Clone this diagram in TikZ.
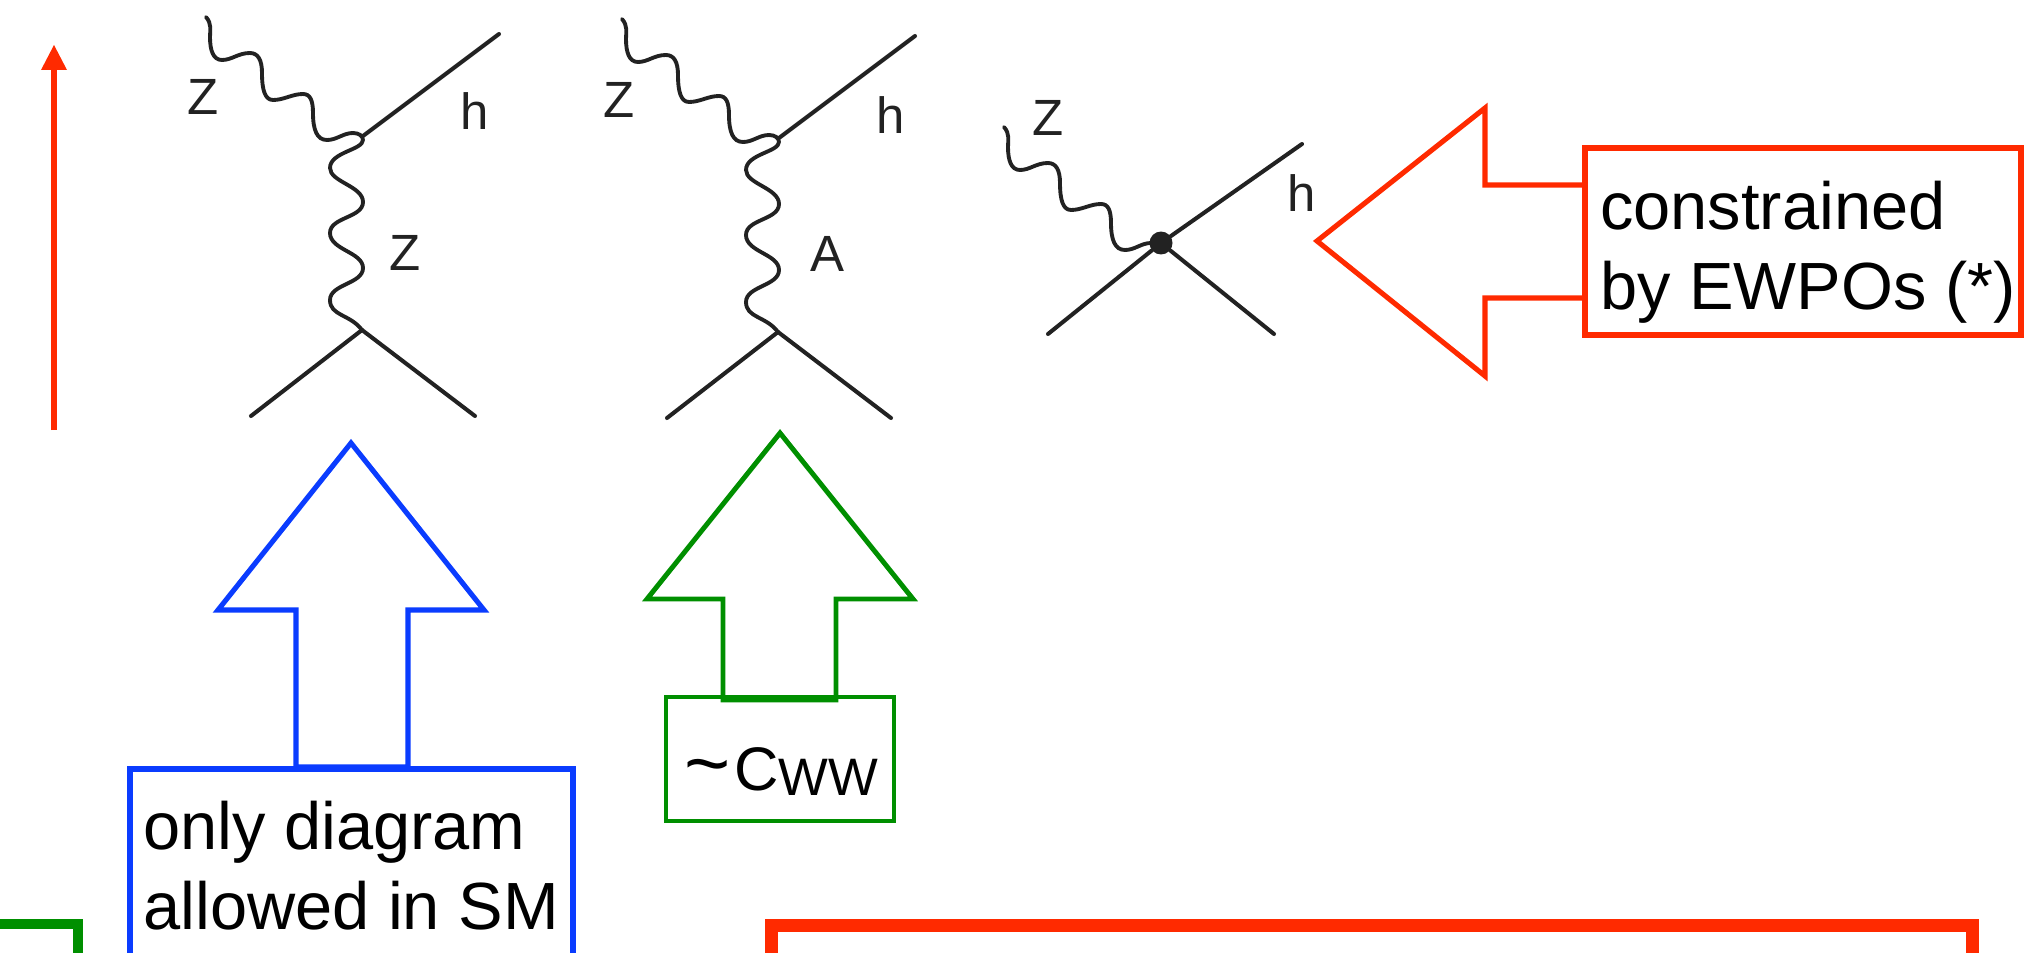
\documentclass[tikz,border=0pt]{standalone}
\usepackage{fontspec}
\setmainfont{Liberation Sans}
\definecolor{myred}{HTML}{FF2A00}
\definecolor{myblue}{HTML}{0A3CFF}
\definecolor{mygreen}{HTML}{008F00}
\definecolor{ink}{HTML}{222222}
\tikzset{
  x=0.02cm,y=-0.02cm,
  fermion/.style={draw=ink,line width=2.3pt,line cap=round},
  boson/.style={draw=ink,line width=2.2pt,line cap=round},
  lab/.style={inner sep=0,text=ink,font=\fontsize{29}{29}\selectfont},
  txt/.style={inner sep=0,align=left,anchor=north west,font=\fontsize{38}{45.5}\selectfont},
  blockred/.style={draw=myred,line width=2.9pt,fill=white,line join=miter},
  blockblue/.style={draw=myblue,line width=2.9pt,fill=white,line join=miter},
  blockgreen/.style={draw=mygreen,line width=2.8pt,line join=miter},
  thickgreen/.style={draw=mygreen,line width=5.7pt,line join=miter},
  thickred/.style={draw=myred,line width=7.4pt,line join=miter},
  incoming/.pic={
    \draw[boson] (206,17) .. controls (212,24) and (210,30) .. (210,37)
      .. controls (210,50) and (213,60) .. (222,60)
      .. controls (232,60) and (238,53) .. (250,53)
      .. controls (258,53) and (262,60) .. (262,73)
      .. controls (262,90) and (265,100) .. (273,100)
      .. controls (284,100) and (292,94) .. (303,94)
      .. controls (310,94) and (313,100) .. (313,113)
      .. controls (313,130) and (317,140) .. (327,140)
      .. controls (337,140) and (343,133) .. (353,133)
      .. controls (359,133) and (363,136) .. (363,140);
  },
  propagator/.pic={
    \coordinate (-top) at (363,136);
    \coordinate (-bot) at (362,330);
    \coordinate (-h) at (499,34);
    \coordinate (-l) at (251,416);
    \coordinate (-r) at (475,416);
    \draw[boson] (363,140) .. controls (363,150) and (330,152) .. (330,168)
      .. controls (330,182) and (363,186) .. (363,202)
      .. controls (363,218) and (330,217) .. (330,233)
      .. controls (330,250) and (363,252) .. (363,268)
      .. controls (363,284) and (330,284) .. (330,300)
      .. controls (330,316) and (350,314) .. (362,330);
    \draw[fermion] (-top) -- (-h);
    \draw[fermion] (-bot) -- (-l);
    \draw[fermion] (-bot) -- (-r);
  },
}
\begin{document}
\begin{tikzpicture}
\path[use as bounding box] (0,0) rectangle (2025,953);
\clip (0,0) rectangle (2025,953);

% axis arrow
\coordinate (axisbot) at (54,430);
\coordinate (axistop) at (54,68);
\draw[draw=myred,line width=2.9pt] (axisbot) -- (axistop);
\fill[myred] (54,45) -- (67,70) -- (41,70) -- cycle;

% first diagram
\pic (da) at (0,0) {incoming};
\pic (dap) at (0,0) {propagator};
\node[lab] (zone) at (203,97) {Z};
\node[lab] (hone) at (475,111) {h};
\node[lab] (zprop) at (405,253) {Z};

% second diagram
\pic (db) at (416,2) {incoming};
\pic (dbp) at (416,2) {propagator};
\node[lab] (ztwo) at (619,100) {Z};
\node[lab] (htwo) at (891,115) {h};
\node[lab] (aprop) at (827,254) {A};

% contact diagram
\pic (dc) at (798,110) {incoming};
\node[circle,fill=ink,inner sep=0,minimum size=0.46cm] (dot) at (1161,243) {};
\coordinate (chh) at (1302,144);
\coordinate (cll) at (1048,334);
\coordinate (crr) at (1274,334);
\draw[fermion] (dot) -- (chh);
\draw[fermion] (dot) -- (cll);
\draw[fermion] (dot) -- (crr);
\node[lab] (zthree) at (1048,118) {Z};
\node[lab] (hthree) at (1302,193) {h};

% blue
\draw[blockblue] (296,767) -- (296,610) -- (218,610) -- (351,443) -- (484,610) -- (408,610) -- (408,767) -- cycle;
\draw[blockblue,fill=none] (130,769) rectangle (573,1000);
\node[txt] (bluetext) at (143,801) {only diagram\\allowed in SM};

% green
\draw[blockgreen] (723,700) -- (723,599) -- (647,599) -- (780,433) -- (913,599) -- (836,599) -- (836,700) -- cycle;
\draw[blockgreen] (666,697) rectangle (894,821);
\node[inner sep=0,anchor=base west] (cww) at (684,790) {\fontsize{45}{45}\selectfont\char`\~\kern2pt\fontsize{35}{45}\selectfont C\raisebox{-3pt}{\fontsize{30}{30}\selectfont WW}};

% red
\draw[blockred] (1585,185) -- (1485,185) -- (1485,108) -- (1317,241) -- (1485,376) -- (1485,298) -- (1585,298);
\draw[blockred,fill=none] (1585,148) rectangle (2021,335);
\node[txt] (redtext) at (1600,181) {constrained\\by EWPOs (*)};

% lower boxes
\draw[thickgreen] (-20,924) -- (78,924) -- (78,1000);
\draw[thickred] (771.5,1000) -- (771.5,925.5) -- (1972.5,925.5) -- (1972.5,1000);
\end{tikzpicture}
\end{document}
